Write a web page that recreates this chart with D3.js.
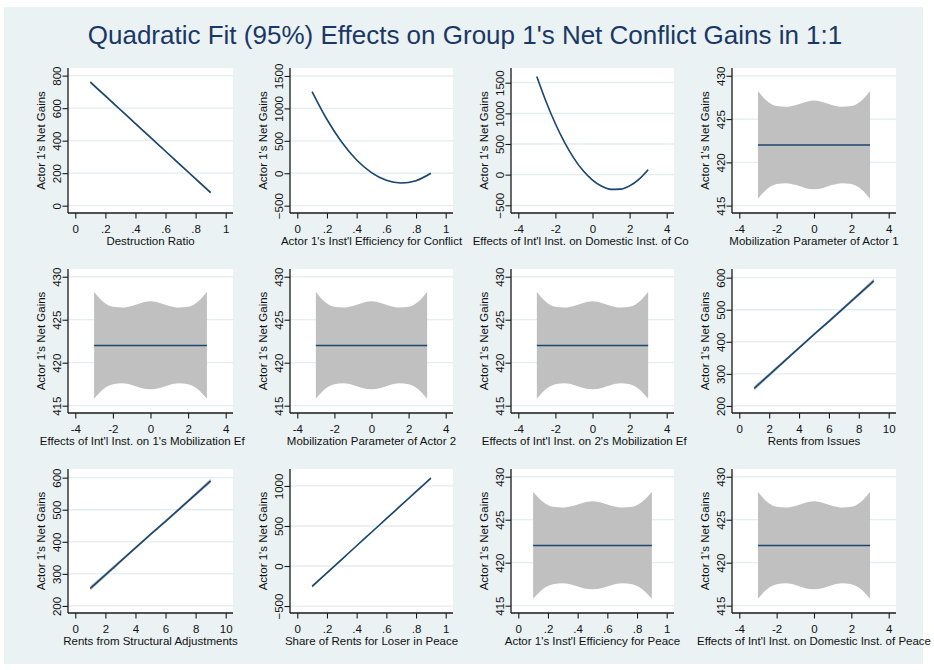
<!DOCTYPE html>
<html><head><meta charset="utf-8">
<script src="https://cdn.jsdelivr.net/npm/d3@7/dist/d3.min.js"></script>
<style>
body{margin:0;background:#fff}
svg{display:block}
text{font-family:"Liberation Sans",Arial,Helvetica,sans-serif}
</style>
</head><body>
<svg id="chart" width="934" height="670"></svg>
<script>
// ---------- DATA ----------
const chartTitle = "Quadratic Fit (95%) Effects on Group 1's Net Conflict Gains in 1:1";
const yAxisTitle = "Actor 1's Net Gains";
const xTitles = [
  "Destruction Ratio",
  "Actor 1's Inst'l Efficiency for Conflict",
  "Effects of Int'l Inst. on Domestic Inst. of Conflict",
  "Mobilization Parameter of Actor 1",
  "Effects of Int'l Inst. on 1's Mobilization Effort",
  "Mobilization Parameter of Actor 2",
  "Effects of Int'l Inst. on 2's Mobilization Effort",
  "Rents from Issues",
  "Rents from Structural Adjustments",
  "Share of Rents for Loser in Peace",
  "Actor 1's Inst'l Efficiency for Peace",
  "Effects of Int'l Inst. on Domestic Inst. of Peace"
];

// x tick values / labels
const xTicksUnit = [0, 0.2, 0.4, 0.6, 0.8, 1];
const xTickLabelsUnit = ["0", ".2", ".4", ".6", ".8", "1"];
const xTicksSym = [-4, -2, 0, 2, 4];
const xTickLabelsSym = ["-4", "-2", "0", "2", "4"];
const xTicksTen = [0, 2, 4, 6, 8, 10];
const xTickLabelsTen = ["0", "2", "4", "6", "8", "10"];

// y tick values
const yTicksDestruction = [0, 200, 400, 600, 800];
const yTicksBig = [-500, 0, 500, 1000, 1500];
const yTicksFlat = [415, 420, 425, 430];
const yTicksRents = [200, 300, 400, 500, 600];
const yTicksShare = [-500, 0, 500, 1000];

// x values of the fitted series
const xUnit = [0.1, 0.2, 0.3, 0.4, 0.5, 0.6, 0.7, 0.8, 0.9];
const xUnitFine = [0.1, 0.167, 0.233, 0.3, 0.367, 0.433, 0.5, 0.567, 0.633, 0.7, 0.767, 0.833, 0.9];
const xSym = [-3, -2.5, -2, -1.5, -1, -0.5, 0, 0.5, 1, 1.5, 2, 2.5, 3];
const xTen = [1, 2, 3, 4, 5, 6, 7, 8, 9];

// fitted values and 95% CI half widths
const destructionFit = [760, 675, 590, 505, 420, 335, 250, 165, 80];
const destructionCI  = [8, 7, 6, 5, 5, 5, 6, 7, 8];
const conflictEffFit = [1257, 829, 479, 205, 10, -109, -150, -114, 0];
const conflictEffCI  = [14, 11, 9, 8, 8, 8, 9, 11, 14];
const domConflictFit = [1600, 1189, 830, 522, 266, 62, -90, -191, -240, -237, -183, -77, 81];
const domConflictCI  = [16, 13, 11, 10, 9, 9, 9, 9, 9, 10, 11, 13, 16];
const flatFit   = [422, 422, 422, 422, 422, 422, 422, 422, 422, 422, 422, 422, 422];
const flatUpper = [428.25, 427.05, 426.5, 426.42, 426.6, 426.95, 427.15, 426.95, 426.6, 426.42, 426.5, 427.05, 428.25];
const flatLower = [415.8, 416.95, 417.5, 417.6, 417.4, 417.05, 416.9, 417.05, 417.4, 417.6, 417.5, 416.95, 415.8];
const rentsFit = [255, 297, 339, 381, 423, 464, 506, 548, 590];
const rentsCI  = [7, 6, 5, 4.5, 4, 4.5, 5, 6, 7];
const shareFit = [-254, -85, 84, 253, 422, 591, 760, 929, 1098];
const shareCI  = [16, 13, 11, 10, 9, 10, 11, 13, 16];

// ---------- PANEL SPECS ----------
function band(xs, fit, half) {
  return xs.map((x, i) => ({x: x, y: fit[i], lo: fit[i] - half[i], hi: fit[i] + half[i]}));
}
function bandLU(xs, fit, lo, hi) {
  return xs.map((x, i) => ({x: x, y: fit[i], lo: lo[i], hi: hi[i]}));
}
const flatSym = () => bandLU(xSym, flatFit, flatLower, flatUpper);
const panels = [
  {data: band(xUnit, destructionFit, destructionCI), xt: xTicksUnit, xl: xTickLabelsUnit, yt: yTicksDestruction, yd: [-45, 847]},
  {data: band(xUnit, conflictEffFit, conflictEffCI), xt: xTicksUnit, xl: xTickLabelsUnit, yt: yTicksBig, yd: [-613, 1623]},
  {data: band(xSym, domConflictFit, domConflictCI), xt: xTicksSym, xl: xTickLabelsSym, yt: yTicksBig, yd: [-626, 1740]},
  {data: flatSym(), xt: xTicksSym, xl: xTickLabelsSym, yt: yTicksFlat, yd: [414.15, 430.9]},
  {data: flatSym(), xt: xTicksSym, xl: xTickLabelsSym, yt: yTicksFlat, yd: [414.15, 430.9]},
  {data: flatSym(), xt: xTicksSym, xl: xTickLabelsSym, yt: yTicksFlat, yd: [414.15, 430.9]},
  {data: flatSym(), xt: xTicksSym, xl: xTickLabelsSym, yt: yTicksFlat, yd: [414.15, 430.9]},
  {data: band(xTen, rentsFit, rentsCI), xt: xTicksTen, xl: xTickLabelsTen, yt: yTicksRents, yd: [178, 627]},
  {data: band(xTen, rentsFit, rentsCI), xt: xTicksTen, xl: xTickLabelsTen, yt: yTicksRents, yd: [178, 627]},
  {data: band(xUnit, shareFit, shareCI), xt: xTicksUnit, xl: xTickLabelsUnit, yt: yTicksShare, yd: [-587, 1212]},
  {data: bandLU(xUnitFine, flatFit, flatLower, flatUpper), xt: xTicksUnit, xl: xTickLabelsUnit, yt: yTicksFlat, yd: [414.15, 430.9]},
  {data: flatSym(), xt: xTicksSym, xl: xTickLabelsSym, yt: yTicksFlat, yd: [414.15, 430.9]}
];

// ---------- LAYOUT / STYLE ----------
const colL = [68, 290, 511, 732];
const colR = [233, 453, 674, 896];
const rowT = [68, 269, 469];
const rowB = [213, 413, 613];
const colRightLimit = [245, 467, 689.5, 934];
const pad = 7.3;
const C = {bg: "#eaf2f3", plot: "#ffffff", grid: "#e4edef", axis: "#1a1a1a",
           line: "#1a476f", ci: "#c0c0c0", title: "#1b3766", text: "#111"};

const svg = d3.select("#chart");
svg.append("rect").attr("x", 4).attr("y", 7).attr("width", 919).attr("height", 657).attr("fill", C.bg);

svg.append("text").attr("x", 465).attr("y", 44).attr("text-anchor", "middle")
  .attr("font-size", 26).attr("fill", C.title).text(chartTitle);

panels.forEach((p, i) => {
  const col = i % 4, row = Math.floor(i / 4);
  const L = colL[col], R = colR[col], T = rowT[row], B = rowB[row];
  const x = d3.scaleLinear().domain([p.xt[0], p.xt[p.xt.length - 1]]).range([L + pad, R - pad]);
  const y = d3.scaleLinear().domain(p.yd).range([B, T]);
  const g = svg.append("g");

  g.append("rect").attr("x", L).attr("y", T).attr("width", R - L).attr("height", B - T).attr("fill", C.plot);

  // grid
  g.append("g").selectAll("line").data(p.yt).join("line")
    .attr("x1", L).attr("x2", R).attr("y1", d => y(d)).attr("y2", d => y(d))
    .attr("stroke", C.grid).attr("stroke-width", 1.3);

  // CI band
  g.append("path").datum(p.data)
    .attr("d", d3.area().x(d => x(d.x)).y0(d => y(d.lo)).y1(d => y(d.hi)).curve(d3.curveMonotoneX))
    .attr("fill", C.ci);
  // fit line
  g.append("path").datum(p.data)
    .attr("d", d3.line().x(d => x(d.x)).y(d => y(d.y)).curve(d3.curveMonotoneX))
    .attr("fill", "none").attr("stroke", C.line).attr("stroke-width", 1.6);

  // y axis
  const ya = g.append("g").attr("transform", `translate(${L},0)`)
    .call(d3.axisLeft(y).tickValues(p.yt).tickSize(5.5).tickSizeOuter(0).tickFormat(d3.format("d")));
  ya.attr("font-family", null);
  ya.select(".domain").attr("d", `M0,${T}V${B}`).attr("stroke", C.axis).attr("stroke-width", 1.3);
  ya.selectAll(".tick line").attr("stroke", C.axis).attr("stroke-width", 1.1);
  ya.selectAll(".tick text").attr("x", null).attr("dy", null)
    .attr("transform", "translate(-7,0) rotate(-90)")
    .attr("text-anchor", "middle").attr("font-size", 11.5).attr("fill", C.text);

  // x axis
  const xa = g.append("g").attr("transform", `translate(0,${B})`)
    .call(d3.axisBottom(x).tickValues(p.xt).tickSize(5.5).tickSizeOuter(0).tickFormat((d, k) => p.xl[k]));
  xa.attr("font-family", null);
  xa.select(".domain").attr("d", `M${L},0H${R}`).attr("stroke", C.axis).attr("stroke-width", 1.3);
  xa.selectAll(".tick line").attr("stroke", C.axis).attr("stroke-width", 1.1);
  xa.selectAll(".tick text").attr("y", 20).attr("dy", null)
    .attr("font-size", 11.5).attr("fill", C.text);

  // axis titles
  g.append("text").attr("transform", `translate(${L - 23},${(T + B) / 2}) rotate(-90)`)
    .attr("text-anchor", "middle").attr("font-size", 11.5).attr("fill", C.text).text(yAxisTitle);

  // x title: centred; characters that run past the column's limit are dropped
  const xt = g.append("text").attr("x", (L + R) / 2).attr("y", B + 31.5)
    .attr("text-anchor", "middle").attr("font-size", 11.5).attr("fill", C.text).text(xTitles[i]);
  const node = xt.node();
  const full = node.getComputedTextLength();
  const start = (L + R) / 2 - full / 2;
  const s = xTitles[i];
  let n = s.length;
  while (n > 0 && start + node.getSubStringLength(0, n) > colRightLimit[col]) n--;
  if (n < s.length) {
    xt.attr("text-anchor", "start").attr("x", start).text(s.slice(0, n));
  }
});
</script>
</body></html>
